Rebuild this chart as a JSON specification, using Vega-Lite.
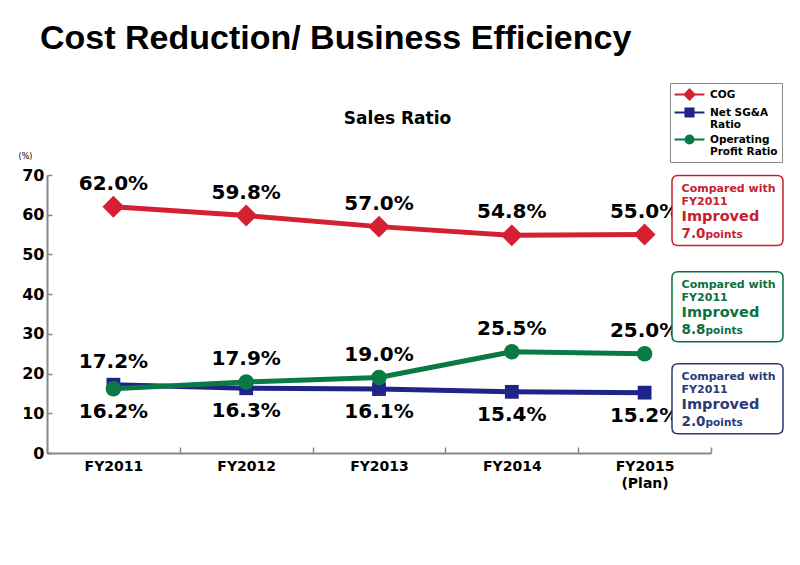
{
  "$schema": "https://vega.github.io/schema/vega-lite/v6.json",
  "width": 664,
  "height": 278,
  "autosize": "none",
  "padding": {"left": 47, "top": 175, "right": 89, "bottom": 112},
  "background": "white",
  "title": {
    "text": "Cost Reduction/ Business Efficiency",
    "anchor": "start",
    "frame": "group",
    "font": "Liberation Sans",
    "fontSize": 34,
    "fontWeight": "bold",
    "color": "#000000",
    "dx": -7,
    "offset": 0,
    "baseline": "alphabetic"
  },
  "config": {"view": {"stroke": null}, "font": "DejaVu Sans"},
  "datasets": {
    "main": [
      {"year": "FY2011", "series": "COG", "value": 62.0},
      {"year": "FY2012", "series": "COG", "value": 59.8},
      {"year": "FY2013", "series": "COG", "value": 57.0},
      {"year": "FY2014", "series": "COG", "value": 54.8},
      {"year": "FY2015", "series": "COG", "value": 55.0},
      {"year": "FY2011", "series": "Net SG&A Ratio", "value": 17.2},
      {"year": "FY2012", "series": "Net SG&A Ratio", "value": 16.3},
      {"year": "FY2013", "series": "Net SG&A Ratio", "value": 16.1},
      {"year": "FY2014", "series": "Net SG&A Ratio", "value": 15.4},
      {"year": "FY2015", "series": "Net SG&A Ratio", "value": 15.2},
      {"year": "FY2011", "series": "Operating Profit Ratio", "value": 16.2},
      {"year": "FY2012", "series": "Operating Profit Ratio", "value": 17.9},
      {"year": "FY2013", "series": "Operating Profit Ratio", "value": 19.0},
      {"year": "FY2014", "series": "Operating Profit Ratio", "value": 25.5},
      {"year": "FY2015", "series": "Operating Profit Ratio", "value": 25.0}
    ],
    "notes": [
      {"year": "FY2015", "series": "COG", "value": 55.0, "points": "7.0"},
      {"year": "FY2015", "series": "Net SG&A Ratio", "value": 15.2, "points": "2.0"},
      {"year": "FY2015", "series": "Operating Profit Ratio", "value": 25.0, "points": "8.8"}
    ]
  },
  "data": {"name": "main"},
  "encoding": {
    "x": {
      "field": "year",
      "type": "nominal",
      "scale": {"type": "band", "paddingInner": 0, "paddingOuter": 0},
      "axis": {
        "title": "Sales Ratio",
        "titleX": 350,
        "titleY": -335,
        "titleFont": "DejaVu Sans",
        "titleFontSize": 17,
        "titleFontWeight": "bold",
        "titleColor": "#000000",
        "titleAlign": "center",
        "titleBaseline": "middle",
        "labelFont": "DejaVu Sans",
        "labelFontSize": 14,
        "labelFontWeight": "bold",
        "labelColor": "#000000",
        "labelAngle": 0,
        "labelPadding": 12,
        "labelLineHeight": 17,
        "labelExpr": "datum.value == 'FY2015' ? ['FY2015', '(Plan)'] : datum.value",
        "tickBand": "extent",
        "tickSize": -6,
        "tickColor": "#888888",
        "tickWidth": 1.5,
        "domainColor": "#888888",
        "domainWidth": 2
      }
    },
    "y": {
      "field": "value",
      "type": "quantitative",
      "scale": {"domain": [0, 70]},
      "axis": {
        "title": "(%)",
        "titleAngle": 0,
        "titleX": -22,
        "titleY": -19,
        "titleFont": "DejaVu Sans",
        "titleFontSize": 8,
        "titleFontWeight": "normal",
        "titleColor": "#000000",
        "titleAlign": "center",
        "titleBaseline": "middle",
        "values": [0, 10, 20, 30, 40, 50, 60, 70],
        "labelFont": "DejaVu Sans",
        "labelFontSize": 16,
        "labelFontWeight": "bold",
        "labelColor": "#000000",
        "labelPadding": 8,
        "tickSize": -5,
        "tickColor": "#888888",
        "tickWidth": 1.5,
        "grid": false,
        "domainColor": "#888888",
        "domainWidth": 2
      }
    }
  },
  "layer": [
    {
      "mark": {"type": "line", "strokeWidth": 5},
      "encoding": {
        "color": {
          "field": "series",
          "type": "nominal",
          "scale": {"domain": ["COG", "Net SG&A Ratio", "Operating Profit Ratio"], "range": ["#d42030", "#1f2488", "#0a7a45"]},
          "legend": {
            "title": null,
            "orient": "none",
            "legendX": 623,
            "legendY": -92,
            "padding": 4,
            "strokeColor": "#888888",
            "fillColor": "white",
            "labelFont": "DejaVu Sans",
            "labelFontSize": 10.5,
            "labelFontWeight": "bold",
            "labelColor": "#000000",
            "labelLineHeight": 13,
            "labelOffset": 13,
            "symbolOffset": 8,
            "labelExpr": "datum.label == 'Net SG&A Ratio' ? ['Net SG&A', 'Ratio'] : datum.label == 'Operating Profit Ratio' ? ['Operating', 'Profit Ratio'] : datum.label",
            "symbolSize": 169,
            "symbolStrokeWidth": 2,
            "rowPadding": 0,
            "symbolType": {"expr": "datum.value == 'COG' ? 'M-2.3,0H2.3M0,-0.77L0.77,0L0,0.77L-0.77,0Z' : datum.value == 'Net SG&A Ratio' ? 'M-2.3,0H2.3M-0.62,-0.62H0.62V0.62H-0.62Z' : 'M-2.3,0H2.3M0.62,0C0.62,0.342 0.342,0.62 0,0.62C-0.342,0.62 -0.62,0.342 -0.62,0C-0.62,-0.342 -0.342,-0.62 0,-0.62C0.342,-0.62 0.62,-0.342 0.62,0Z'"},
            "encode": {
              "symbols": {
                "update": {
                  "fill": {"value": {"expr": "scale('color', datum.value)"}},
                  "strokeWidth": {"value": 2},
                  "opacity": {"value": 1}
                }
              }
            }
          }
        }
      }
    },
    {
      "mark": {
        "type": "point",
        "filled": true,
        "opacity": 1,
        "shape": {"expr": "datum.series == 'COG' ? 'diamond' : datum.series == 'Net SG&A Ratio' ? 'square' : 'circle'"},
        "size": {"expr": "datum.series == 'COG' ? 480 : datum.series == 'Net SG&A Ratio' ? 190 : 240"}
      },
      "encoding": {
        "color": {"field": "series", "type": "nominal"}
      }
    },
    {
      "transform": [
        {"filter": "datum.series == 'COG' || (datum.series == 'Operating Profit Ratio' && datum.year != 'FY2011') || (datum.series == 'Net SG&A Ratio' && datum.year == 'FY2011')"},
        {"calculate": "format(datum.value, '.1f') + '%'", "as": "label"}
      ],
      "mark": {"type": "text", "dy": -23, "font": "DejaVu Sans", "fontSize": 20, "fontWeight": "bold", "color": "#000000", "baseline": "middle"},
      "encoding": {"text": {"field": "label"}}
    },
    {
      "transform": [
        {"filter": "!(datum.series == 'COG' || (datum.series == 'Operating Profit Ratio' && datum.year != 'FY2011') || (datum.series == 'Net SG&A Ratio' && datum.year == 'FY2011'))"},
        {"calculate": "format(datum.value, '.1f') + '%'", "as": "label"}
      ],
      "mark": {"type": "text", "dy": 23, "font": "DejaVu Sans", "fontSize": 20, "fontWeight": "bold", "color": "#000000", "baseline": "middle"},
      "encoding": {"text": {"field": "label"}}
    },
    {
      "data": {"name": "notes"},
      "mark": {
        "type": "point",
        "filled": true,
        "fill": "white",
        "opacity": 1,
        "size": 40000,
        "strokeWidth": 1.5,
        "stroke": {"expr": "datum.series == 'COG' ? '#c8202f' : datum.series == 'Net SG&A Ratio' ? '#2b3a78' : '#0d7040'"},
        "shape": {"expr": "datum.series == 'COG' ? 'M0.334,-0.59H1.324Q1.384,-0.59 1.384,-0.53V0.05Q1.384,0.11 1.324,0.11H0.334Q0.274,0.11 0.274,0.05V-0.53Q0.274,-0.59 0.334,-0.59Z' : datum.series == 'Net SG&A Ratio' ? 'M0.334,-0.29H1.324Q1.384,-0.29 1.384,-0.23V0.35Q1.384,0.41 1.324,0.41H0.334Q0.274,0.41 0.274,0.35V-0.23Q0.274,-0.29 0.334,-0.29Z' : 'M0.334,-0.82H1.324Q1.384,-0.82 1.384,-0.76V-0.18Q1.384,-0.12 1.324,-0.12H0.334Q0.274,-0.12 0.274,-0.18V-0.76Q0.274,-0.82 0.334,-0.82Z'"}
      },
      "encoding": {}
    },
    {
      "data": {"name": "notes"},
      "mark": {
        "type": "text",
        "align": "left",
        "baseline": "alphabetic",
        "font": "DejaVu Sans",
        "fontSize": 11,
        "fontWeight": "bold",
        "lineHeight": 13,
        "dx": 37,
        "dy": {"expr": "-43 + (datum.series == 'COG' ? 0 : datum.series == 'Net SG&A Ratio' ? 30 : -23)"},
        "fill": {"expr": "datum.series == 'COG' ? '#c8202f' : datum.series == 'Net SG&A Ratio' ? '#2b3a78' : '#0d7040'"},
        "text": ["Compared with", "FY2011"]
      },
      "encoding": {}
    },
    {
      "data": {"name": "notes"},
      "mark": {
        "type": "text",
        "align": "left",
        "baseline": "alphabetic",
        "font": "DejaVu Sans",
        "fontSize": 14.5,
        "fontWeight": "bold",
        "dx": 37,
        "dy": {"expr": "-14 + (datum.series == 'COG' ? 0 : datum.series == 'Net SG&A Ratio' ? 30 : -23)"},
        "fill": {"expr": "datum.series == 'COG' ? '#c8202f' : datum.series == 'Net SG&A Ratio' ? '#2b3a78' : '#0d7040'"},
        "text": "Improved"
      },
      "encoding": {}
    },
    {
      "data": {"name": "notes"},
      "mark": {
        "type": "text",
        "align": "left",
        "baseline": "alphabetic",
        "font": "DejaVu Sans",
        "fontSize": 13.5,
        "fontWeight": "bold",
        "dx": 37,
        "dy": {"expr": "3 + (datum.series == 'COG' ? 0 : datum.series == 'Net SG&A Ratio' ? 30 : -23)"},
        "fill": {"expr": "datum.series == 'COG' ? '#c8202f' : datum.series == 'Net SG&A Ratio' ? '#2b3a78' : '#0d7040'"}
      },
      "encoding": {"text": {"field": "points"}}
    },
    {
      "data": {"name": "notes"},
      "mark": {
        "type": "text",
        "align": "left",
        "baseline": "alphabetic",
        "font": "DejaVu Sans",
        "fontSize": 10.5,
        "fontWeight": "bold",
        "dx": 61,
        "dy": {"expr": "3 + (datum.series == 'COG' ? 0 : datum.series == 'Net SG&A Ratio' ? 30 : -23)"},
        "fill": {"expr": "datum.series == 'COG' ? '#c8202f' : datum.series == 'Net SG&A Ratio' ? '#2b3a78' : '#0d7040'"},
        "text": "points"
      },
      "encoding": {}
    }
  ]
}
